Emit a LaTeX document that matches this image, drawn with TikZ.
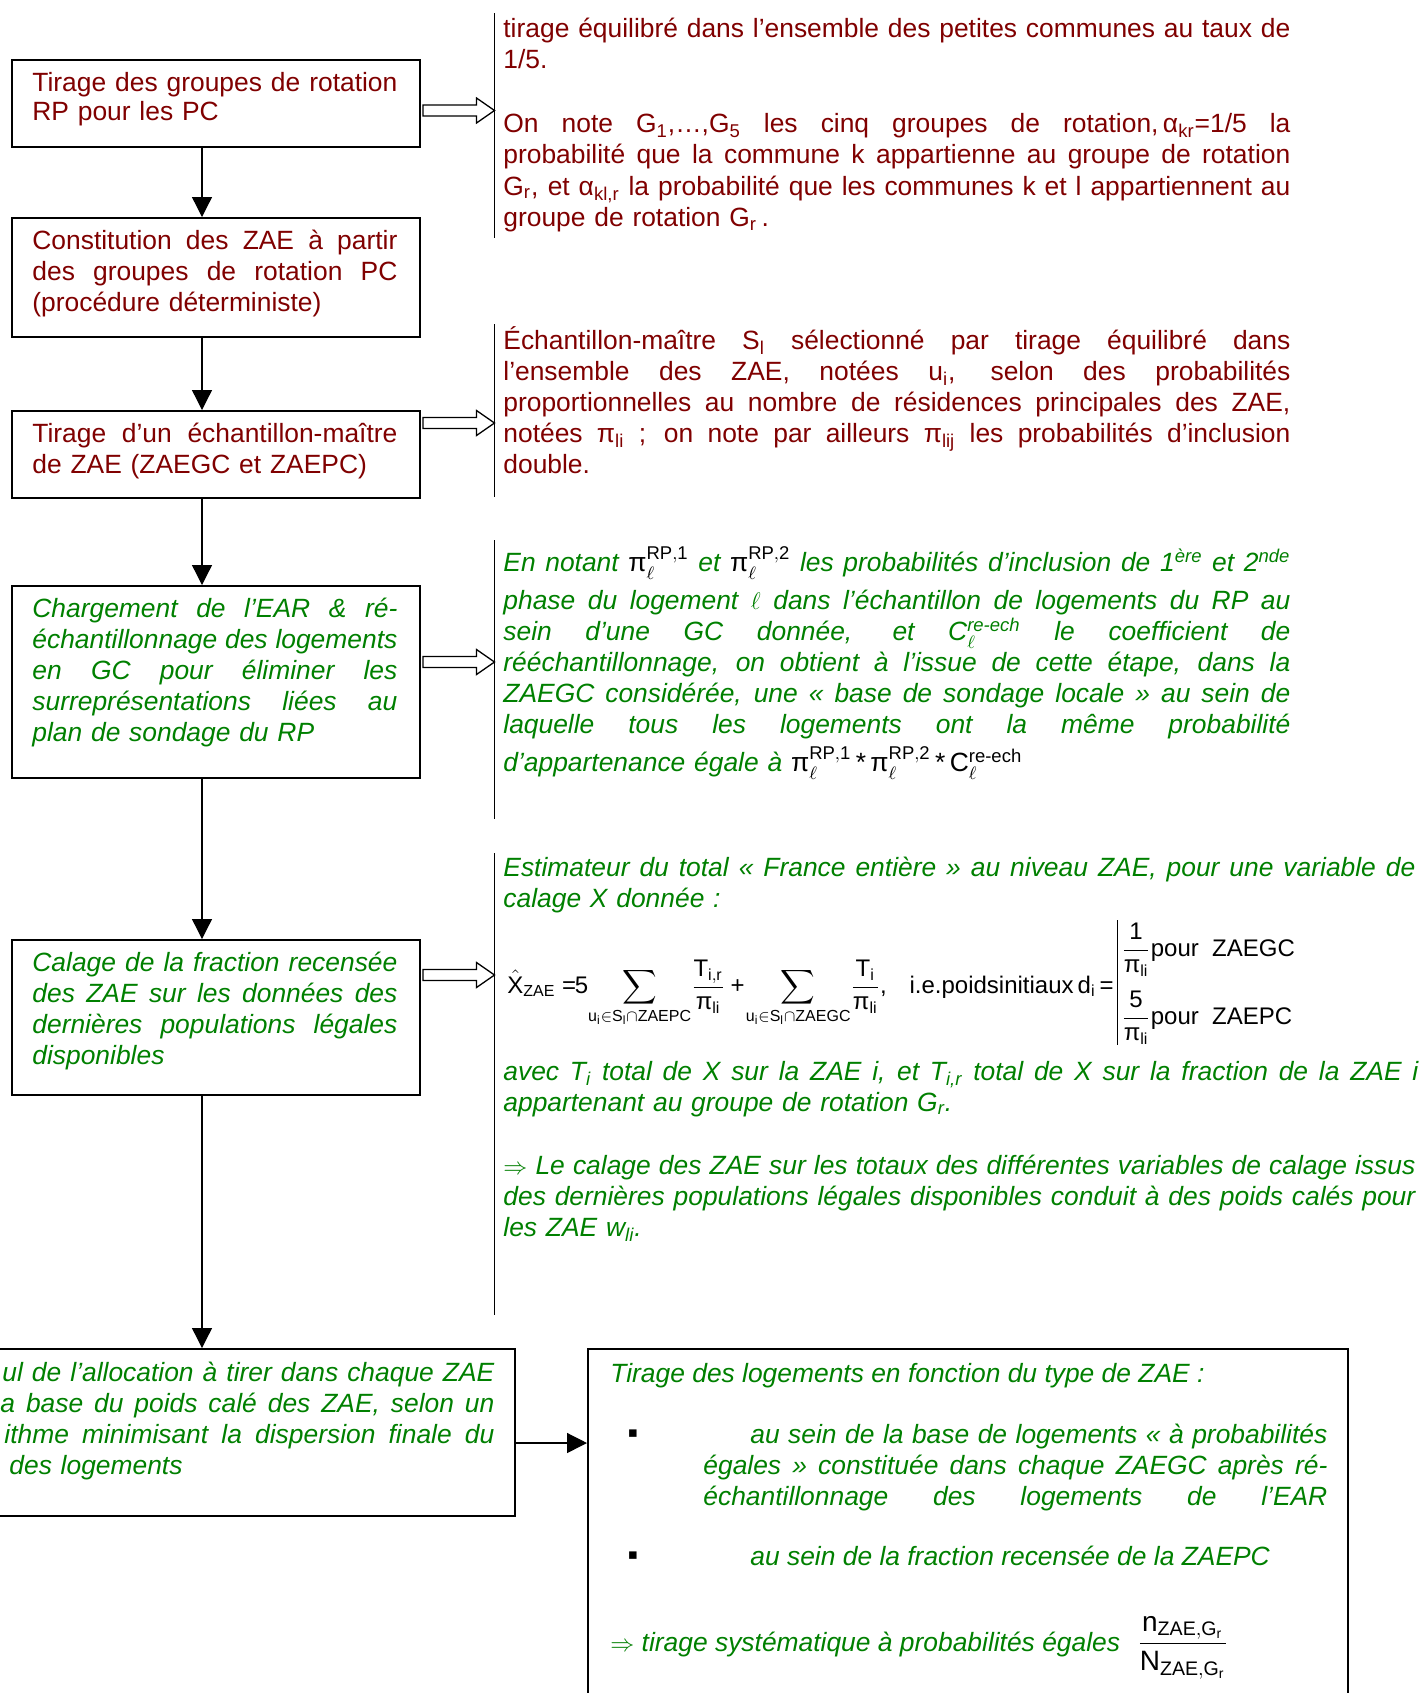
\documentclass[tikz,border=0pt]{standalone}
\usepackage{amsmath}
\usepackage{fontspec}
\setmainfont{Liberation Sans}
\newfontfamily\dejavu{DejaVu Sans}
\usetikzlibrary{arrows.meta,calc}
\definecolor{dred}{RGB}{128,0,0}
\definecolor{dgreen}{RGB}{0,128,0}
\newcommand\upi{\text{\upshape π}}
\newcommand\jl[1]{\leavevmode\hbox to \linewidth{\spaceskip=0.278em plus 1fil minus 0.1em\xspaceskip=\spaceskip #1}}
\newcommand\blk[1]{{\color{black}#1}}
\newcommand\rfont{\fontsize{13.2}{15.5}\selectfont\lineskiplimit=-20pt\lineskip=0pt\parindent=0pt\relax}
\newcommand\rfontb{\fontsize{13.2}{15.65}\selectfont\lineskiplimit=-20pt\lineskip=0pt\parindent=0pt\relax}
\newcommand\gfont{\fontsize{13.2}{15.5}\selectfont\itshape\lineskiplimit=-20pt\lineskip=0pt\parindent=0pt\relax}
\newcommand\mfont{\fontsize{12}{14}\selectfont}
\newcommand\mfontb{\fontsize{14}{16}\selectfont}
\newcommand\harrow[2]{%
  \coordinate (ht#1) at (494.5,#2);
  \coordinate (hs#1) at ($(#1.east |- ht#1)+(2.5,0)$);
  \draw[hollow] ($(hs#1)+(0,-5.5)$) -- ($(ht#1)+(-18,-5.5)$) -- ($(ht#1)+(-18,-12.5)$) -- (ht#1)
     -- ($(ht#1)+(-18,12.5)$) -- ($(ht#1)+(-18,5.5)$) -- ($(hs#1)+(0,5.5)$) -- cycle;}
\tikzset{
  box/.style={draw=black, line width=0.75pt, inner sep=0pt, anchor=north west},
  conn/.style={draw=black, line width=0.65pt, -{Triangle[length=10pt,width=10pt]}},
  sepline/.style={draw=black, line width=0.9pt},
  hollow/.style={draw=black, line width=0.65pt, fill=white},
  rtxt/.style={anchor=base west, inner sep=0pt, align=left, text=dred, font=\rfont},
  gtxt/.style={anchor=base west, inner sep=0pt, align=left, text=dgreen, font=\gfont},
  mtxt/.style={inner sep=0pt, text=black, font=\mfont},
  bullet/.style={inner sep=0pt, text=black, font={\fontsize{7.5}{9}\dejavu}},
}
\begin{document}
\begin{tikzpicture}[x=0.5pt,y=-0.5pt]
\useasboundingbox (0,0) rectangle (1420,1693);
\fill[white] (0,0) rectangle (1420,1693);
\clip (0,0) rectangle (1420,1693);

% ---------- left boxes
\node[box, minimum width=204pt, minimum height=43.5pt] (b1) at (11,59) {};
\node[box, minimum width=204pt, minimum height=59.5pt] (b2) at (11,217) {};
\node[box, minimum width=204pt, minimum height=43.5pt] (b3) at (11,410) {};
\node[box, minimum width=204pt, minimum height=96pt] (b4) at (11,585) {};
\node[box, minimum width=204pt, minimum height=77.5pt] (b5) at (11,939) {};
\node[box, minimum width=317pt, minimum height=83.5pt] (b6) at (-120,1348) {};
\node[box, minimum width=380pt, minimum height=200pt] (b7) at (587,1348) {};

\node[rtxt, text width=182.5pt] (t1) at (32,91) {\jl{Tirage des groupes de rotation}\\[-1pt]RP pour les PC};
\node[rtxt, text width=182.5pt] (t2) at (32,249) {\jl{Constitution des ZAE à partir}\\\jl{des groupes de rotation PC}\\(procédure déterministe)};
\node[rtxt, text width=182.5pt] (t3) at (32,442) {\jl{Tirage d’un échantillon-maître}\\de ZAE (ZAEGC et ZAEPC)};
\node[gtxt, text width=182.5pt] (t4) at (32,617) {\jl{Chargement de l’EAR \& ré-}\\\jl{échantillonnage des logements}\\\jl{en GC pour éliminer les}\\\jl{surreprésentations liées au}\\plan de sondage du RP};
\node[gtxt, text width=182.5pt] (t5) at (32,971) {\jl{Calage de la fraction recensée}\\\jl{des ZAE sur les données des}\\\jl{dernières populations légales}\\disponibles};
\node[gtxt, text width=247pt] (t6) at (0,1381) {\jl{\hspace*{1pt}ul de l’allocation à tirer dans chaque ZAE}\\\jl{a base du poids calé des ZAE, selon un}\\\jl{\hspace*{2pt}ithme minimisant la dispersion finale du}\\\hspace*{4.5pt}des logements};

% ---------- connectors
\coordinate (cx) at (202,0);
\coordinate (ay) at (0,1443);
\draw[conn] (b1.south -| cx) -- (b2.north -| cx);
\draw[conn] (b2.south -| cx) -- (b3.north -| cx);
\draw[conn] (b3.south -| cx) -- (b4.north -| cx);
\draw[conn] (b4.south -| cx) -- (b5.north -| cx);
\draw[conn] (b5.south -| cx) -- (b6.north -| cx);
\draw[conn] (b6.east |- ay) -- (b7.west |- ay);

% ---------- separators
\draw[sepline] (494.5,13) -- (494.5,238);
\draw[sepline] (494.5,324) -- (494.5,497);
\draw[sepline] (494.5,540) -- (494.5,819);
\draw[sepline] (494.5,853) -- (494.5,1315);

\harrow{b1}{110.5}
\harrow{b3}{423}
\harrow{b4}{662}
\harrow{b5}{975}

% ---------- right texts
\node[rtxt, text width=393.5pt, font=\rfontb] (r1) at (503,37) {\jl{tirage équilibré dans l’ensemble des petites communes au taux de}\\1/5.\\[16.5pt]
\jl{On note G\textsubscript{1},…,G\textsubscript{5} les cinq groupes de rotation,\,α\textsubscript{kr}=1/5 la}\\
\jl{probabilité que la commune k appartienne au groupe de rotation}\\
\jl{G\textsubscript{r}, et α\textsubscript{kl,r} la probabilité que les communes k et l appartiennent au}\\
groupe de rotation G\textsubscript{r}\,.};

\node[rtxt, text width=393.5pt] (r2) at (503,349) {\jl{Échantillon-maître S\textsubscript{l} sélectionné par tirage équilibré dans}\\
\jl{l’ensemble des ZAE, notées u\textsubscript{i}, selon des probabilités}\\
\jl{proportionnelles au nombre de résidences principales des ZAE,}\\
\jl{notées π\textsubscript{li} ; on note par ailleurs π\textsubscript{lij} les probabilités d’inclusion}\\
double.};

\node[gtxt, text width=393.5pt] (r3) at (503,571.5) {\jl{En notant \blk{$\upi^{\mathrm{RP,1}}_{\ell}$} et \blk{$\upi^{\mathrm{RP,2}}_{\ell}$} les probabilités d’inclusion de 1\textsuperscript{ère} et 2\textsuperscript{nde}}\\[3.5pt]
\jl{phase du logement $\ell$ dans l’échantillon de logements du RP au}\\
\jl{sein d’une GC donnée, et C$^{\text{re-ech}}_{\ell}$ le coefficient de}\\
\jl{rééchantillonnage, on obtient à l’issue de cette étape, dans la}\\
\jl{ZAEGC considérée, une « base de sondage locale » au sein de}\\
\jl{laquelle tous les logements ont la même probabilité}\\[3.5pt]
d’appartenance égale à \blk{$\upi^{\mathrm{RP,1}}_{\ell}\text{\upshape\,*\,}\upi^{\mathrm{RP,2}}_{\ell}\text{\upshape\,*\,}\mathrm{C}^{\text{\upshape re-ech}}_{\ell}$}};

\node[gtxt, text width=456pt] (r4a) at (503,876) {\jl{Estimateur du total « France entière » au niveau ZAE, pour une variable de}\\calage X donnée :};

\node[mtxt, anchor=base west] (f1) at (507,993) {$\displaystyle \hat{\mathrm{X}}_{\mathrm{ZAE}}\mathrel{\text{=}}\!\!\mathrm{5}\!\sum_{\mathrm{u_i\in S_l\cap ZAEPC}}\!\frac{\mathrm{T_{i,r}}}{\upi_{\mathrm{li}}}\mathbin{\text{+}}\!\sum_{\mathrm{u_i\in S_l\cap ZAEGC}}\!\frac{\mathrm{T_i}}{\upi_{\mathrm{li}}}\text{,}$};
\node[mtxt, anchor=base east] (f1b) at (1114,993) {i.e.poidsinitiaux\,d\textsubscript{i}\,=};
\draw[line width=0.5pt] (1117.6,920) -- (1117.6,1045);
\node[mtxt, anchor=base west] (f2) at (1121,956) {$\displaystyle\frac{\mathrm{1}}{\upi_{\mathrm{li}}}$pour\ \ ZAEGC};
\node[mtxt, anchor=base west] (f3) at (1121,1024) {$\displaystyle\frac{\mathrm{5}}{\upi_{\mathrm{li}}}$pour\ \ ZAEPC};

\node[gtxt, text width=457.5pt] (r4b) at (503,1080) {\jl{avec T\textsubscript{i} total de X sur la ZAE i, et T\textsubscript{i,r} total de X sur la fraction de la ZAE i}\\appartenant au groupe de rotation G\textsubscript{r}.};
\node[gtxt, text width=456pt] (r4c) at (503,1174) {\jl{$\Rightarrow$ Le calage des ZAE sur les totaux des différentes variables de calage issus}\\
\jl{des dernières populations légales disponibles conduit à des poids calés pour}\\
les ZAE w\textsubscript{li}.};

% ---------- box 7
\node[gtxt] (s1) at (610,1382) {Tirage des logements en fonction du type de ZAE :};
\node[bullet] (bu1) at (633,1434) {▪};
\node[gtxt, text width=312pt] (s2) at (703,1443) {\jl{\hspace*{23.5pt}au sein de la base de logements « à probabilités}\\
\jl{égales » constituée dans chaque ZAEGC après ré-}\\
\jl{échantillonnage des logements de l’EAR}};
\node[bullet] (bu2) at (633,1556) {▪};
\node[gtxt] (s3) at (750,1565) {au sein de la fraction recensée de la ZAEPC};
\node[gtxt] (s4) at (610,1651) {$\Rightarrow$ tirage systématique à probabilités égales};
\node[mtxt, anchor=base west, font=\mfontb] (s5) at (1137,1651) {$\displaystyle\frac{\mathrm{n_{ZAE,G_r}}}{\mathrm{N_{ZAE,G_r}}}$};
\end{tikzpicture}
\end{document}
